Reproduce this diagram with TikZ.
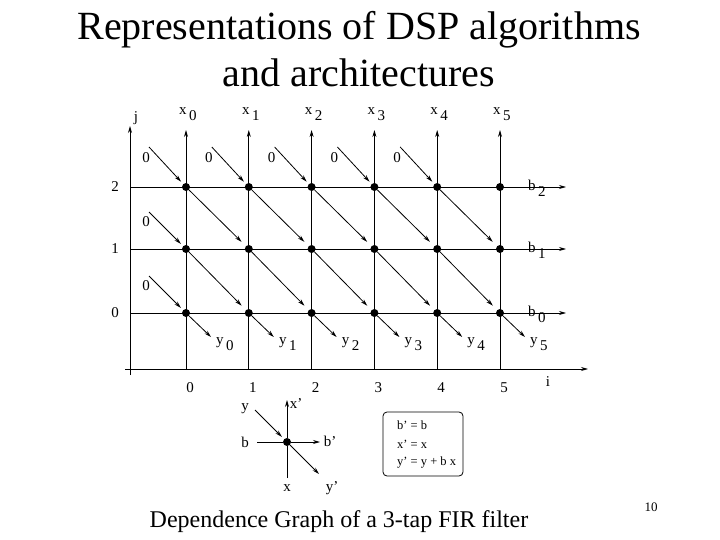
\documentclass[tikz,border=0pt]{standalone}
\usepackage{fontspec}
\setmainfont{Liberation Serif}
\usetikzlibrary{arrows.meta}
\begin{document}
\begin{tikzpicture}[x=1pt,y=-1pt,
  ln/.style={line width=0.8pt,-{Stealth[length=7pt,width=4pt]}},
  pl/.style={line width=0.8pt},
  dot/.style={circle,fill,inner sep=0pt,minimum size=8pt},
  lb/.style={font=\fontsize{15}{15}\selectfont,inner sep=1pt},
  eq/.style={font=\fontsize{12.5}{12.5}\selectfont,inner sep=1pt}]
\useasboundingbox (0,0) rectangle (720,540);
\node[font=\fontsize{40}{47}\selectfont,align=center] (title) at (359,49) {Representations of DSP algorithms\\and architectures};
\node[font=\fontsize{24}{24}\selectfont] (cap) at (339,522) {Dependence Graph of a 3-tap FIR filter};
\node[font=\fontsize{13}{13}\selectfont] (pg) at (651,507) {10};
% axes
\coordinate (io) at (125,369); \coordinate (ie) at (588,369);
\draw[ln] (io) -- (ie);
\coordinate (jo) at (130,375); \coordinate (je) at (130,126);
\draw[ln] (jo) -- (je);
\node[lb] (il) at (548,382) {i};
\node[lb] (jl) at (136,118) {j};
\foreach \r/\yy in {2/187,1/249,0/313}{
  \coordinate (hs\r) at (130,\yy); \coordinate (he\r) at (566,\yy);
  \draw[ln] (hs\r) -- (he\r);
  \node[lb] (rl\r) at (115,\yy) {\r};
  \node[lb,anchor=west] (b\r) at (527,\yy+1) {b\raisebox{-6pt}{\,\r}};
}
\foreach \c in {0,...,5}{
  \pgfmathsetmacro\xx{186+62.8*\c}
  \coordinate (vs\c) at (\xx,369); \coordinate (ve\c) at (\xx,130);
  \draw[ln] (vs\c) -- (ve\c);
  \node[lb] (cl\c) at (\xx+4,388) {\c};
  \node[lb,anchor=west] (x\c) at (\xx-8,114) {x\raisebox{-6pt}{\,\c}};
  \foreach \r/\yy in {2/187,1/249,0/313}{
    \node[dot] (n\c\r) at (\xx,\yy) {};
  }
  \node[lb,anchor=west] (y\c) at (\xx+29,344) {y\raisebox{-6pt}{\,\c}};
  \coordinate (ye\c) at (\xx+25,337);
  \draw[ln] (n\c0) -- (ye\c);
}
% inputs "0"
\foreach \c in {0,...,4}{
  \pgfmathsetmacro\xx{186+62.8*\c}
  \coordinate (zs\c) at (\xx-37,147);
  \draw[ln,shorten >=3pt] (zs\c) -- (n\c2);
  \node[lb] (z\c) at (\xx-40,158) {0};
}
\foreach \r/\yy in {1/249,0/313}{
  \coordinate (zr\r) at (149,\yy-37);
  \draw[ln,shorten >=3pt] (zr\r) -- (n0\r);
  \node[lb] (zl\r) at (146,\yy-27) {0};
}
% diagonals
\foreach \c/\d in {0/1,1/2,2/3,3/4,4/5}{
  \draw[ln,shorten >=6pt] (n\c2) -- (n\d1);
  \draw[ln,shorten >=6pt] (n\c1) -- (n\d0);
}
% legend
\node[dot] (ln) at (287,442) {};
\coordinate (lxs) at (287,478); \coordinate (lxe) at (287,400);
\draw[pl] (lxs) -- (ln); \draw[ln] (ln) -- (lxe);
\coordinate (lbs) at (257,442); \coordinate (lbe) at (320,442);
\draw[pl] (lbs) -- (ln); \draw[ln] (ln) -- (lbe);
\coordinate (lys) at (255,410); \coordinate (lye) at (319,474);
\draw[ln,shorten >=3pt] (lys) -- (ln); \draw[ln] (ln) -- (lye);
\node[lb] (ly) at (245,409) {y};
\node[lb] (lx') at (296,404) {x'};
\node[lb] (lb) at (245,442) {b};
\node[lb] (lb') at (330,441) {b'};
\node[lb] (lx) at (287,488) {x};
\node[lb] (ly') at (332,488) {y'};
\node[draw,rounded corners=4pt,line width=0.8pt,minimum width=80pt,minimum height=64pt] (box) at (423,444) {};
\node[eq,anchor=west] (e1) at (396,425) {b' = b};
\node[eq,anchor=west] (e2) at (396,444) {x' = x};
\node[eq,anchor=west] (e3) at (396,463) {y' = y + b x};
\end{tikzpicture}
\end{document}
